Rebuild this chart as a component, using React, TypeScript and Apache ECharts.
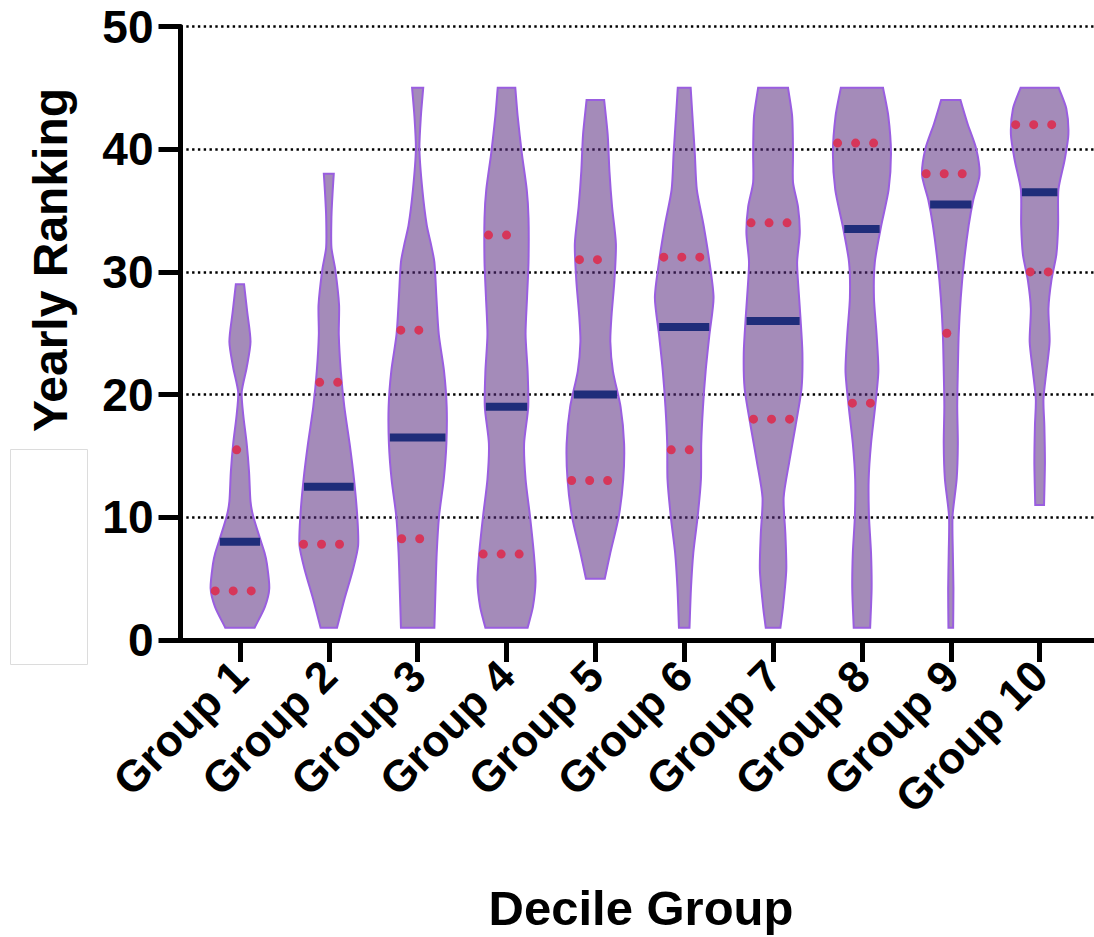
import React, { useEffect, useRef } from "react";
import * as echarts from "echarts";

const CATEGORIES = ["Group 1", "Group 2", "Group 3", "Group 4", "Group 5", "Group 6", "Group 7", "Group 8", "Group 9", "Group 10"];
const POSITIONS = [1, 2, 3, 4, 5, 6, 7, 8, 9, 10];
const MEDIANS = [8, 12.5, 16.5, 19, 20, 25.5, 26, 33.5, 35.5, 36.5];
const Q1 = [4, 7.8, 8.25, 7, 13, 15.5, 18, 19.3, 25, 30];
const Q3 = [15.5, 21, 25.25, 33, 31, 31.2, 34, 40.5, 38, 42];

// Violin outlines: [ranking value, relative density 0..1], top to bottom
const G1_PROFILE: [number, number][] = [
  [29, 0.14], [26.7, 0.25], [24.3, 0.36], [22.2, 0.23], [20.2, 0.06], [18.4, 0.11], [16, 0.23],
  [13.7, 0.31], [11.3, 0.36], [10.1, 0.45], [8.3, 0.68], [7.1, 0.84], [6.2, 0.92], [4.2, 1.0],
  [2.7, 0.85], [1, 0.5],
];
const G2_PROFILE: [number, number][] = [
  [38, 0.17], [36.5, 0.13], [34.5, 0.09], [32, 0.09], [30.2, 0.22], [27.3, 0.35], [24.9, 0.34],
  [21.9, 0.41], [19, 0.53], [16, 0.71], [13.1, 0.86], [10.1, 0.97], [7.7, 1.0], [5.7, 0.82],
  [3.3, 0.53], [1, 0.28],
];
const G3_PROFILE: [number, number][] = [
  [45, 0.19], [42.7, 0.11], [40, 0.06], [36.7, 0.16], [33.8, 0.31], [32.3, 0.45], [30.8, 0.57],
  [27.9, 0.64], [24.9, 0.72], [21.9, 0.9], [19, 0.99], [16, 0.98], [13.1, 0.89], [10.1, 0.73],
  [7.1, 0.65], [4.2, 0.61], [1, 0.57],
];
const G4_PROFILE: [number, number][] = [
  [45, 0.3], [42.7, 0.38], [39.7, 0.52], [36.7, 0.69], [34.4, 0.75], [30.8, 0.75], [27.9, 0.7],
  [24.9, 0.65], [21.9, 0.72], [19, 0.74], [16, 0.6], [13.1, 0.65], [10.1, 0.8], [7.1, 0.93],
  [4.8, 0.99], [2.7, 0.9], [1, 0.72],
];
const G5_PROFILE: [number, number][] = [
  [44, 0.3], [41.2, 0.42], [38.2, 0.48], [35.3, 0.57], [32.3, 0.7], [29.3, 0.65], [26.4, 0.55],
  [24.3, 0.51], [21.9, 0.6], [19, 0.86], [16, 0.98], [13.1, 0.95], [10.1, 0.8], [7.1, 0.51],
  [5, 0.32],
];
const G6_PROFILE: [number, number][] = [
  [45, 0.22], [42.7, 0.28], [39.7, 0.36], [36.7, 0.43], [33.8, 0.66], [30.8, 0.86], [27.9, 1.0],
  [24.9, 0.86], [21.9, 0.73], [19, 0.64], [16, 0.58], [13.1, 0.57], [10.1, 0.46], [7.1, 0.31],
  [4.2, 0.23], [1, 0.18],
];
const G7_PROFILE: [number, number][] = [
  [45, 0.51], [42.7, 0.65], [39.7, 0.68], [37.3, 0.68], [35.3, 0.85], [33.2, 0.91], [30.8, 0.82],
  [28.5, 0.87], [26.4, 0.93], [23.4, 1.0], [20.5, 0.97], [17.5, 0.77], [14.5, 0.55], [11.6, 0.36],
  [8.6, 0.42], [5.7, 0.45], [2.7, 0.34], [1, 0.25],
];
const G8_PROFILE: [number, number][] = [
  [45, 0.72], [42.7, 0.9], [39.7, 0.99], [36.7, 0.91], [33.8, 0.66], [30.8, 0.44], [27.9, 0.41],
  [24.9, 0.5], [21.9, 0.56], [19, 0.45], [16, 0.31], [13.1, 0.23], [10.1, 0.24], [7.1, 0.31],
  [4.2, 0.33], [1, 0.28],
];
const G9_PROFILE: [number, number][] = [
  [44, 0.33], [42.1, 0.57], [40, 0.87], [37.9, 0.98], [35.9, 0.77], [33.8, 0.61], [30.8, 0.45],
  [27.9, 0.34], [24.9, 0.27], [21.9, 0.24], [19, 0.22], [16, 0.24], [13.1, 0.2], [10.1, 0.06],
  [7.1, 0.07], [4.2, 0.09], [1, 0.08],
];
const G10_PROFILE: [number, number][] = [
  [45, 0.65], [43.3, 0.91], [41.2, 0.98], [39.1, 0.85], [36.7, 0.64], [33.8, 0.63], [31.4, 0.57],
  [29.3, 0.4], [27, 0.3], [24.3, 0.34], [21.9, 0.23], [19.6, 0.13], [17.5, 0.16], [14.5, 0.18],
  [11, 0.15],
];
const PROFILES = [G1_PROFILE, G2_PROFILE, G3_PROFILE, G4_PROFILE, G5_PROFILE, G6_PROFILE, G7_PROFILE, G8_PROFILE, G9_PROFILE, G10_PROFILE];

const Y_MIN = 0;
const Y_MAX = 50;
const Y_STEP = 10;

const MAX_HALF = 0.33;
const FONT = "'Liberation Sans', Arial, Helvetica, sans-serif";

function densityAt(profile: [number, number][], v: number): number {
  for (let k = 0; k < profile.length - 1; k++) {
    const [va, da] = profile[k];
    const [vb, db] = profile[k + 1];
    if (v <= va && v >= vb) {
      const t = (va - v) / (va - vb);
      return da + t * (db - da);
    }
  }
  return 0;
}

export default function App() {
  const ref = useRef<HTMLDivElement>(null);
  useEffect(() => {
    if (!ref.current) return;
    const chart = echarts.init(ref.current, null, { renderer: "svg" });
    const option: any = {
      animation: false,
      backgroundColor: "#ffffff",
      grid: { left: 180.5, top: 26.5, height: 613.5, width: 948, outerBoundsMode: "none", containLabel: false },
      xAxis: {
        type: "value",
        min: 0.331,
        max: 11,
        axisLine: { show: true, lineStyle: { color: "#000", width: 5 } },
        axisTick: { show: true, customValues: POSITIONS, length: 22, lineStyle: { color: "#000", width: 5 } },
        axisLabel: {
          show: true,
          customValues: POSITIONS,
          rotate: 45,
          margin: 28,
          formatter: (v: number) => CATEGORIES[Math.round(v) - 1] ?? "",
          color: "#000",
          fontFamily: FONT,
          fontWeight: "bold",
          fontSize: 44,
        },
        splitLine: { show: false },
      },
      yAxis: {
        type: "value",
        min: Y_MIN,
        max: Y_MAX,
        interval: Y_STEP,
        axisLine: { show: true, lineStyle: { color: "#000", width: 5 } },
        axisTick: { show: true, length: 22, lineStyle: { color: "#000", width: 5 } },
        axisLabel: {
          color: "#000",
          fontFamily: FONT,
          fontWeight: "bold",
          fontSize: 46,
          margin: 27,
        },
        splitLine: { show: true, lineStyle: { color: "#000", width: 2.6, type: [2.4, 3.4] } },
      },
      graphic: [
        {
          type: "text",
          x: 50,
          y: 260,
          rotation: Math.PI / 2,
          style: {
            text: "Yearly Ranking",
            fill: "#000",
            font: `bold 48px ${FONT}`,
            align: "center",
            verticalAlign: "middle",
          },
        },
        {
          type: "text",
          x: 641,
          y: 908,
          style: {
            text: "Decile Group",
            fill: "#000",
            font: `bold 49px ${FONT}`,
            align: "center",
            verticalAlign: "middle",
          },
        },
        {
          type: "rect",
          shape: { x: 10.5, y: 449.5, width: 77, height: 215 },
          style: { fill: "#fff", stroke: "#dcdcdc", lineWidth: 1 },
        },
      ],
      series: [
        {
          type: "custom",
          clip: false,
          data: POSITIONS.map((p, i) => [p, MEDIANS[i]]),
          encode: { x: 0, y: 1 },
          renderItem: (params: any, api: any) => {
            const i = params.dataIndex;
            const x0 = api.value(0);
            const prof = PROFILES[i];
            const right = prof.map(([v, d]) => api.coord([x0 + d * MAX_HALF, v]));
            const left = prof.slice().reverse().map(([v, d]) => api.coord([x0 - d * MAX_HALF, v]));
            // duplicate cap corners so the flat ends stay sharp under smoothing
            const pts = [right[0], ...right, right[right.length - 1], left[0], ...left, left[left.length - 1]];
            const children: any[] = [
              {
                type: "polygon",
                shape: { points: pts, smooth: 0.25 },
                style: { fill: "rgba(90,44,128,0.55)", stroke: "#9a5ee0", lineWidth: 2 },
              },
            ];
            const md = densityAt(prof, MEDIANS[i]) * MAX_HALF;
            const ml = api.coord([x0 - md, MEDIANS[i]]);
            const mr = api.coord([x0 + md, MEDIANS[i]]);
            children.push({
              type: "rect",
              shape: { x: ml[0] + 1, y: ml[1] - 4, width: mr[0] - ml[0] - 2, height: 8 },
              style: { fill: "#1f2d7a" },
            });
            [Q1[i], Q3[i]].forEach((q) => {
              const qd = densityAt(prof, q) * MAX_HALF;
              const ql = api.coord([x0 - qd, q]);
              const qr = api.coord([x0 + qd, q]);
              children.push({
                type: "line",
                shape: { x1: ql[0] + 4, y1: ql[1], x2: Math.max(qr[0] - 4, ql[0] + 4.5), y2: qr[1] },
                style: { stroke: "#d6365a", lineWidth: 9, lineCap: "round", lineDash: [0, 18] },
              });
            });
            return { type: "group", children };
          },
        },
      ],
    };
    chart.setOption(option);
    return () => chart.dispose();
  }, []);
  return <div ref={ref} style={{ position: "absolute", left: 0, top: 0, width: 1094, height: 937 }} />;
}
